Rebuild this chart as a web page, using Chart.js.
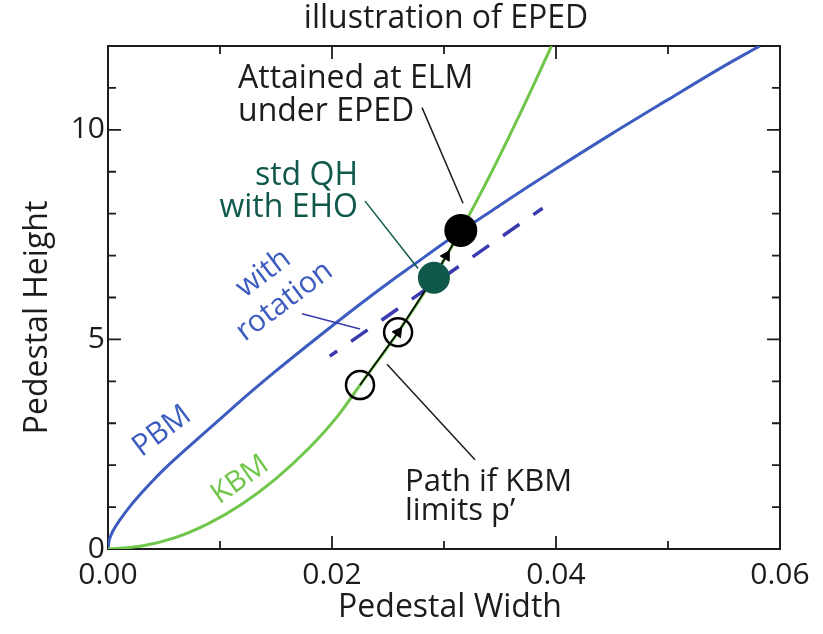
<!DOCTYPE html>
<html>
<head>
<meta charset="utf-8">
<title>illustration of EPED</title>
<script src="https://cdn.jsdelivr.net/npm/chart.js@4.4.1/dist/chart.umd.min.js"></script>
<style>
  html, body { margin: 0; padding: 0; background: #fff; }
  #epedChart { display: block; }
</style>
</head>
<body>
<canvas id="epedChart" width="823" height="634"></canvas>
<script>
// Peeling-ballooning (PBM) stability boundary
const pbmWidth  = [0, 0.0001, 0.00025, 0.0005, 0.001, 0.002, 0.003, 0.004, 0.005, 0.0075, 0.010, 0.0125, 0.015, 0.0175, 0.020, 0.0225, 0.025, 0.0275, 0.030, 0.0325, 0.035, 0.0375, 0.040, 0.045, 0.050, 0.055, 0.0582];
const pbmHeight = [0, 0.2, 0.32, 0.46, 0.67, 1.03, 1.34, 1.63, 1.9, 2.51, 3.1, 3.69, 4.25, 4.79, 5.32, 5.84, 6.34, 6.82, 7.3, 7.76, 8.2, 8.64, 9.07, 9.91, 10.72, 11.52, 12.0];

// Kinetic ballooning (KBM) constraint
const kbmWidth  = [0, 0.003, 0.006, 0.009, 0.012, 0.015, 0.018, 0.0205, 0.0225, 0.0259, 0.0291, 0.0315, 0.034, 0.037, 0.0396];
const kbmHeight = [0, 0.07, 0.27, 0.61, 1.08, 1.68, 2.42, 3.17, 3.91, 5.17, 6.49, 7.6, 8.86, 10.5, 12.0];

// PBM boundary shifted by rotation
const rotationWidth  = [0.0198, 0.0388];
const rotationHeight = [4.60, 8.13];

// evolution of the pedestal along the KBM limit
const pathWidth  = [0.0225, 0.0259, 0.0291, 0.0302, 0.0315];
const pathHeight = [3.91, 5.17, 6.49, 6.99, 7.6];
const pathArrow  = [0, 1, 0, 1, 0];

const stepWidth  = [0.0225, 0.0259];
const stepHeight = [3.91, 5.17];
const ehoWidth   = [0.0291];
const ehoHeight  = [6.47];
const elmWidth   = [0.0315];
const elmHeight  = [7.6];

const xTickValues = [0, 0.02, 0.04, 0.06];
const xTickLabels = ['0.00', '0.02', '0.04', '0.06'];
const yTickValues = [0, 5, 10];
const yTickLabels = ['0', '5', '10'];

const FONT = '"Open Sans", "Noto Sans", sans-serif';
const INK = '#1c1c1c';
const BLUE = '#3d5cbf';
const GREEN = '#70c64b';
const TEAL = '#10594a';
const DASH = '#3a3aae';

const toPoints = (xs, ys) => xs.map((x, i) => ({ x: x, y: ys[i] }));

function tickLabel(values, labels) {
    return function (value) {
        for (let i = 0; i < values.length; i++) {
            if (Math.abs(value - values[i]) < 1e-9) return labels[i];
        }
        return '';
    };
}

// text labels and leader lines, anchored in data units
const notes = [
    { lines: ['Attained at ELM', 'under EPED'], x: 0.01161, y: 11.22, gap: 33, align: 'left', color: INK, size: 32 },
    { lines: ['std QH', 'with EHO'], x: 0.02232, y: 8.9, gap: 32, align: 'right', color: TEAL, size: 32 },
    { lines: ['Path if KBM', 'limits p\u2019'], x: 0.02652, y: 1.6, gap: 29, align: 'left', color: INK, size: 31 },
    { lines: ['with', 'rotation'], x: 0.01482, y: 6.24, gap: 35, align: 'center', color: BLUE, size: 30, angle: -37, centered: true },
    { lines: ['PBM'], x: 0.00482, y: 2.81, align: 'center', color: BLUE, size: 30, angle: -37 },
    { lines: ['KBM'], x: 0.01179, y: 1.65, align: 'center', color: GREEN, size: 29, angle: -35 }
];

const leaders = [
    { from: [0.02804, 10.53], to: [0.0317, 8.25], color: INK },
    { from: [0.02295, 8.30], to: [0.02768, 6.69], color: TEAL },
    { from: [0.01732, 5.61], to: [0.0225, 5.25], color: DASH },
    { from: [0.02491, 4.41], to: [0.03277, 2.13], color: INK }
];

// box frame with inward ticks on all four sides
const frameTicks = {
    id: 'frameTicks',
    beforeDatasetsDraw(chart) {
        const { ctx, chartArea: { left, top, right, bottom }, scales: { x, y } } = chart;
        ctx.save();
        ctx.strokeStyle = INK;
        ctx.lineWidth = 2;
        ctx.strokeRect(left, top, right - left, bottom - top);
        ctx.lineWidth = 1.8;
        ctx.beginPath();
        for (let i = 1; i < 6; i++) {
            const px = x.getPixelForValue(i * 0.01);
            const len = i % 2 === 0 ? 13 : 8;
            ctx.moveTo(px, bottom); ctx.lineTo(px, bottom - len);
            ctx.moveTo(px, top); ctx.lineTo(px, top + len);
        }
        for (let v = 1; v < 12; v++) {
            const py = y.getPixelForValue(v);
            const len = v % 5 === 0 ? 13 : 8;
            ctx.moveTo(left, py); ctx.lineTo(left + len, py);
            ctx.moveTo(right, py); ctx.lineTo(right - len, py);
        }
        ctx.stroke();
        ctx.restore();
    }
};

const annotations = {
    id: 'annotations',
    afterDatasetsDraw(chart) {
        const { ctx, chartArea: { left, top, right, bottom }, scales: { x, y } } = chart;
        ctx.save();

        ctx.lineWidth = 1.5;
        leaders.forEach(l => {
            ctx.strokeStyle = l.color;
            ctx.beginPath();
            ctx.moveTo(x.getPixelForValue(l.from[0]), y.getPixelForValue(l.from[1]));
            ctx.lineTo(x.getPixelForValue(l.to[0]), y.getPixelForValue(l.to[1]));
            ctx.stroke();
        });

        ctx.textBaseline = 'middle';
        notes.forEach(n => {
            ctx.font = n.size + 'px ' + FONT;
            ctx.fillStyle = n.color;
            ctx.textAlign = n.align;
            ctx.save();
            ctx.translate(x.getPixelForValue(n.x), y.getPixelForValue(n.y));
            if (n.angle) ctx.rotate(n.angle * Math.PI / 180);
            const shift = n.centered ? -(n.lines.length - 1) * n.gap / 2 : 0;
            n.lines.forEach((line, i) => ctx.fillText(line, 0, shift + i * (n.gap || 0)));
            ctx.restore();
        });

        // title and axis titles
        ctx.fillStyle = INK;
        ctx.textAlign = 'center';
        ctx.font = '32px ' + FONT;
        ctx.fillText('illustration of EPED', (left + right) / 2 + 2, top - 27);
        ctx.textBaseline = 'alphabetic';
        ctx.fillText('Pedestal Width', (left + right) / 2 + 6, bottom + 68);
        ctx.save();
        ctx.translate(47, (top + bottom) / 2 + 20);
        ctx.rotate(-Math.PI / 2);
        ctx.fillText('Pedestal Height', 0, 0);
        ctx.restore();

        ctx.restore();
    }
};

const data = {
    datasets: [
        {
            label: 'EPED',
            data: toPoints(elmWidth, elmHeight),
            showLine: false,
            pointRadius: 16.5,
            pointBackgroundColor: '#000',
            pointBorderWidth: 0,
            order: 0
        },
        {
            label: 'std QH',
            data: toPoints(ehoWidth, ehoHeight),
            showLine: false,
            pointRadius: 16,
            pointBackgroundColor: TEAL,
            pointBorderWidth: 0,
            order: 1
        },
        {
            label: 'path',
            data: toPoints(pathWidth, pathHeight),
            borderColor: '#000',
            borderWidth: 1.6,
            pointStyle: 'triangle',
            pointRadius: pathArrow.map(a => a ? 6 : 0),
            pointRotation: [0, 36, 0, 30, 0],
            pointBackgroundColor: '#000',
            pointBorderColor: '#000',
            pointBorderWidth: 1,
            order: 2
        },
        {
            label: 'steps',
            data: toPoints(stepWidth, stepHeight),
            showLine: false,
            pointRadius: 14,
            pointBackgroundColor: 'rgba(0,0,0,0)',
            pointBorderColor: '#000',
            pointBorderWidth: 2.5,
            order: 3
        },
        {
            label: 'with rotation',
            data: toPoints(rotationWidth, rotationHeight),
            borderColor: DASH,
            borderWidth: 3.5,
            borderDash: [20, 17],
            borderDashOffset: 11,
            pointRadius: 0,
            order: 4
        },
        {
            label: 'KBM',
            data: toPoints(kbmWidth, kbmHeight),
            borderColor: GREEN,
            borderWidth: 3,
            cubicInterpolationMode: 'monotone',
            pointRadius: 0,
            order: 5
        },
        {
            label: 'PBM',
            data: toPoints(pbmWidth, pbmHeight),
            borderColor: BLUE,
            borderWidth: 3,
            cubicInterpolationMode: 'monotone',
            pointRadius: 0,
            order: 6
        }
    ]
};

new Chart(document.getElementById('epedChart'), {
    type: 'line',
    data: data,
    options: {
        responsive: false,
        animation: false,
        devicePixelRatio: 1,
        layout: { padding: { top: 46, right: 43, left: 0, bottom: 0 } },
        plugins: {
            legend: { display: false },
            tooltip: { enabled: false }
        },
        scales: {
            x: {
                type: 'linear',
                min: 0,
                max: 0.06,
                afterFit(scale) { scale.height = 85; },
                border: { display: false },
                grid: { display: false, drawTicks: false },
                ticks: {
                    stepSize: 0.01,
                    autoSkip: false,
                    maxRotation: 0,
                    padding: 8,
                    color: INK,
                    font: { family: FONT, size: 30 },
                    callback: tickLabel(xTickValues, xTickLabels)
                }
            },
            y: {
                type: 'linear',
                min: 0,
                max: 12,
                afterFit(scale) { scale.width = 108; },
                border: { display: false },
                grid: { display: false, drawTicks: false },
                ticks: {
                    stepSize: 1,
                    autoSkip: false,
                    padding: 3,
                    color: INK,
                    font: { family: FONT, size: 30 },
                    callback: tickLabel(yTickValues, yTickLabels)
                }
            }
        }
    },
    plugins: [frameTicks, annotations]
});
</script>
</body>
</html>
